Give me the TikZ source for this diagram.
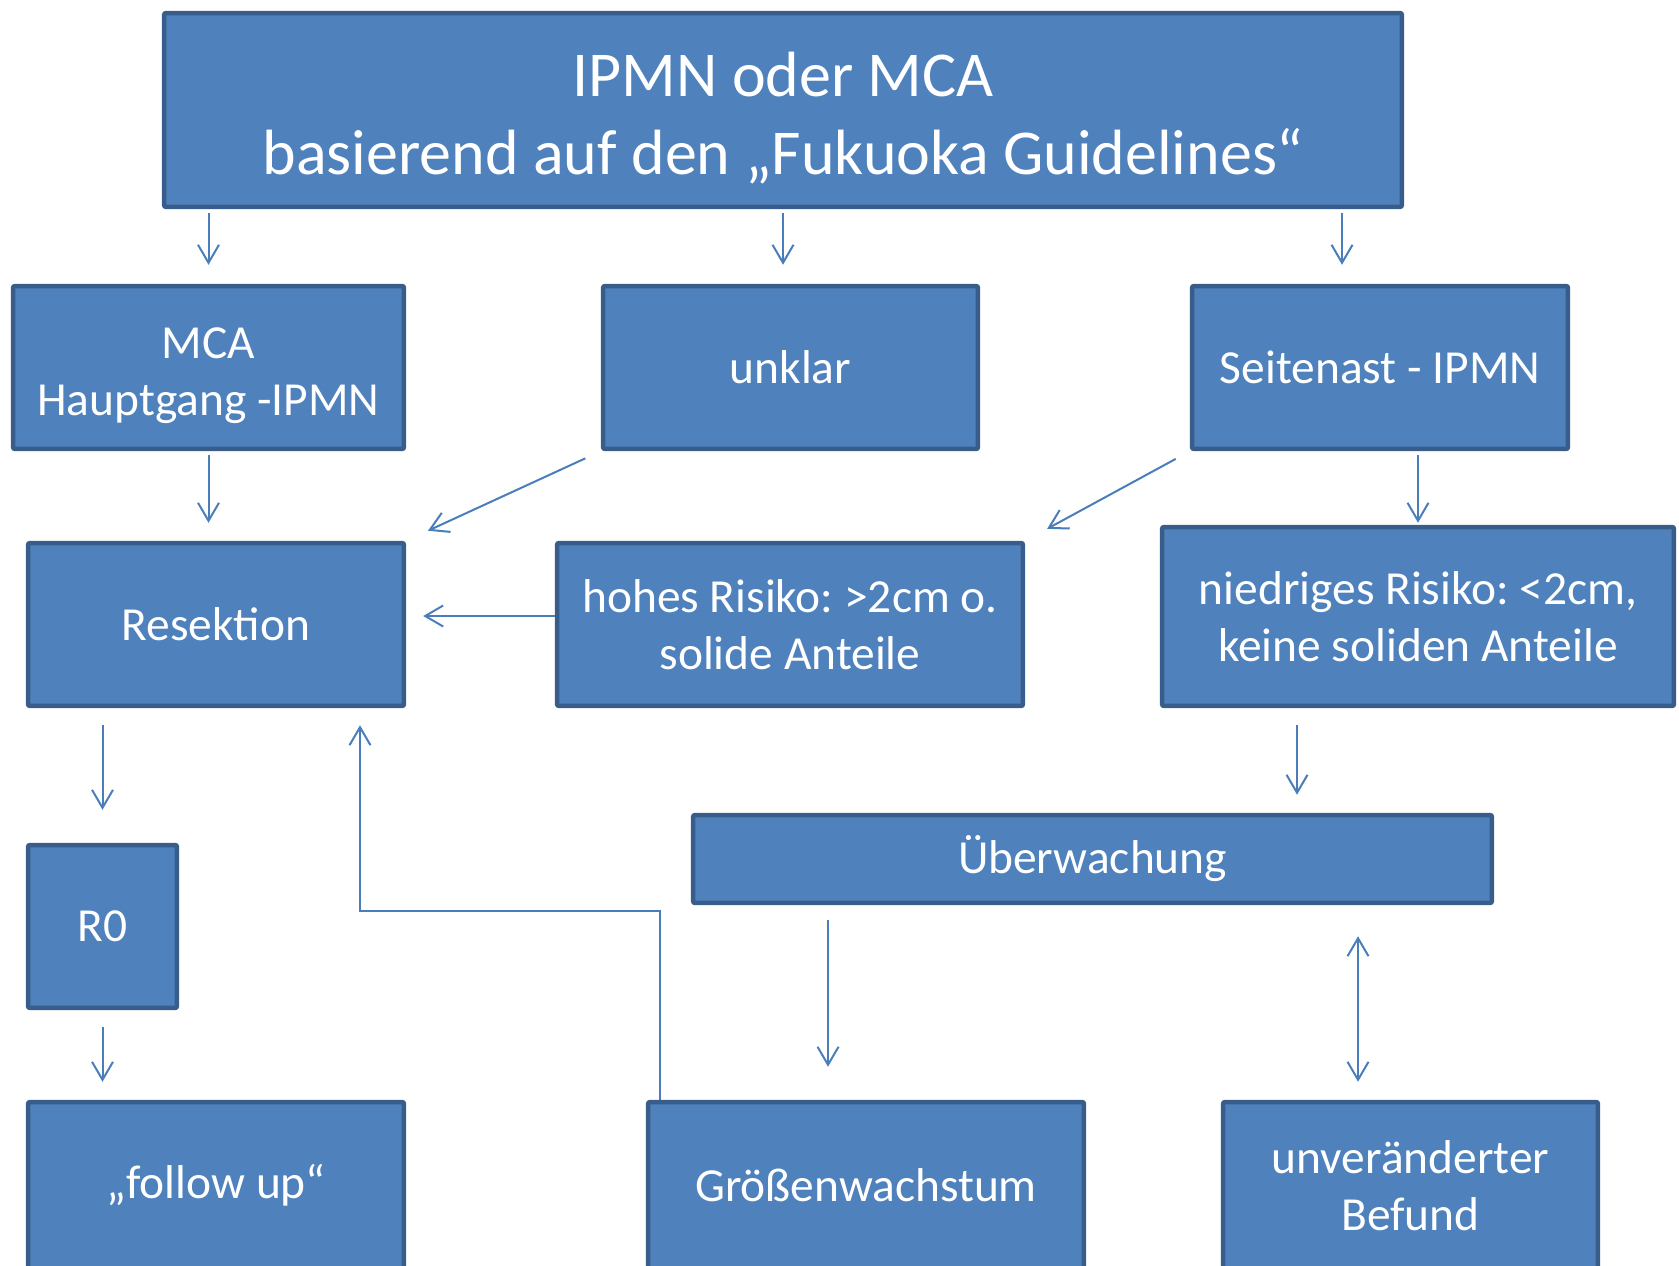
\documentclass[tikz,border=0pt]{standalone}
\usepackage{fontspec}
\setmainfont{Carlito}
\usepackage{tikz}
\usetikzlibrary{arrows.meta}
\definecolor{fkFill}{RGB}{ 79,129,189}
\definecolor{fkLine}{RGB}{ 56, 93,138}
\definecolor{fkArrow}{RGB}{ 74,126,187}
\frenchspacing

\begin{document}
\begin{tikzpicture}[
  x=0.02cm, y=-0.02cm,
  box/.style={
    rectangle, rounded corners=0.04cm, fill=fkFill, draw=fkLine,
    line width=0.09cm, text=white, align=center,
    font=\fontsize{27}{32.5}\selectfont, minimum height=3.26cm
  },
  headbox/.style={
    box, font=\fontsize{36.4}{44.5}\selectfont
  },
  arr/.style={
    draw=fkArrow, line width=0.04cm,
    -{Straight Barb[length=0.36cm, width=0.42cm, line width=0.04cm]}
  },
  darr/.style={
    arr, {Straight Barb[length=0.36cm, width=0.42cm, line width=0.04cm]}-{Straight Barb[length=0.36cm, width=0.42cm, line width=0.04cm]}
  }
]
\useasboundingbox (0,0) rectangle (1679,1266);
\clip (0,0) rectangle (1679,1266);

\node[headbox, minimum width=24.76cm, minimum height=3.88cm] (title) at (783,110)
  {\rule{0pt}{1.2cm}IPMN oder MCA\\ basierend auf den „Fukuoka Guidelines“};

\node[box, minimum width=7.82cm] (mca)    at (208.5,367.5) {\rule{0pt}{0.95cm}MCA\\ Hauptgang -IPMN};
\node[box, minimum width=7.50cm] (unklar) at (790.5,367.5) {unklar};
\node[box, minimum width=7.52cm] (seite)  at (1380,367.5)  {Seitenast - IPMN};

\node[box, minimum width=7.52cm] (resekt)  at (216,624.5)  {Resektion};
\node[box, minimum width=9.32cm] (hoch)    at (790,624.5)  {hohes Risiko: >2cm o.\\ solide Anteile};
\node[box, minimum width=10.24cm, minimum height=3.58cm] (niedrig) at (1418,616.5) {niedriges Risiko: <2cm,\\ keine soliden Anteile};

\node[box, minimum width=15.98cm, minimum height=1.76cm] (ueber) at (1092.5,859) {Überwachung};
\node[box, minimum width=2.98cm] (rnull) at (102.5,926.5) {R0};

\node[box, minimum width=7.52cm, minimum height=3.34cm] (follow)  at (216,1185.5)  {„follow up“};
\node[box, minimum width=8.72cm, minimum height=3.34cm] (groesse) at (866,1185.5)  {Größenwachstum};
\node[box, minimum width=7.50cm, minimum height=3.34cm] (unver)   at (1410.5,1185.5) {unveränderter\\ Befund};

\draw[arr, shorten <=0.08cm, shorten >=0.38cm] (mca.north |- title.south) -- (mca.north);
\draw[arr, shorten <=0.08cm, shorten >=0.38cm] (title.south) -- (title.south |- unklar.north);
\draw[arr, shorten <=0.08cm, shorten >=0.38cm] ([xshift=-0.76cm]seite.north |- title.south) -- ([xshift=-0.76cm]seite.north);

\draw[arr, shorten <=0.08cm, shorten >=0.36cm] (mca.south) -- (mca.south |- resekt.north);
\draw[arr, shorten <=0.34cm, shorten >=0.48cm] (unklar.south west) -- (resekt.north east);
\draw[arr, shorten <=0.32cm, shorten >=0.50cm] (seite.south west) -- (hoch.north east);
\draw[arr, shorten <=0.08cm, shorten >=0.04cm] (niedrig.north |- seite.south) -- (niedrig.north);
\draw[arr, shorten >=0.34cm] ([yshift=0.17cm]hoch.west) -- ([yshift=0.17cm]hoch.west -| resekt.east);

\draw[arr, shorten <=0.34cm, shorten >=0.66cm] (rnull.north |- resekt.south) -- (rnull.north);
\draw[arr, shorten <=0.34cm, shorten >=0.36cm] (rnull.south) -- (rnull.south |- follow.north);
\draw[arr, shorten <=0.34cm, shorten >=0.36cm] ([xshift=-2.42cm]niedrig.south) -- ([xshift=-2.42cm]niedrig.south |- ueber.north);

\draw[arr, shorten <=0.30cm, shorten >=0.66cm] ([xshift=-0.76cm]groesse.north |- ueber.south) -- ([xshift=-0.76cm]groesse.north);
\draw[darr, shorten <=0.62cm, shorten >=0.36cm] ([xshift=-1.05cm]unver.north |- ueber.south) -- ([xshift=-1.05cm]unver.north);

\coordinate (knick) at (360,911);
\draw[arr, shorten >=0.34cm] ([xshift=0.28cm]groesse.north west) |- (knick) -- (knick |- resekt.south);
\end{tikzpicture}
\end{document}
